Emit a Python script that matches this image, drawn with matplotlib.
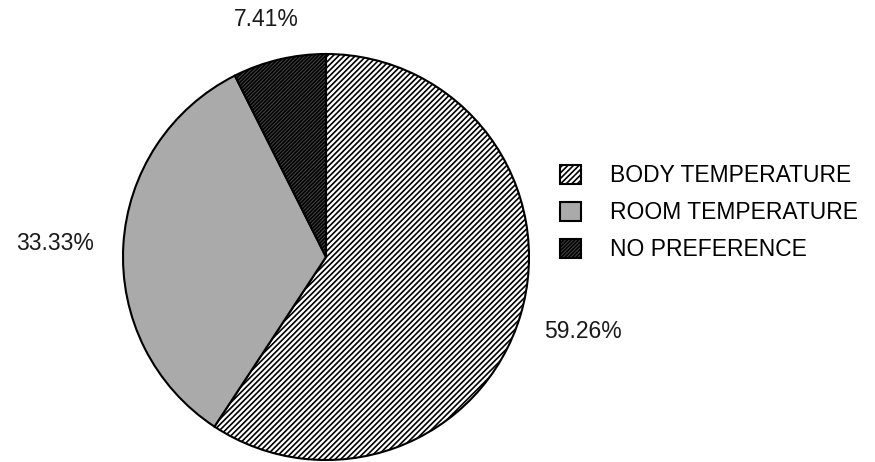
import matplotlib
matplotlib.use('Agg')
import matplotlib.pyplot as plt

categories = ['BODY TEMPERATURE', 'ROOM TEMPERATURE', 'NO PREFERENCE']
shares = [59.26, 33.33, 7.41]
pct_labels = ['59.26%', '33.33%', '7.41%']

plt.rcParams['font.family'] = ['Liberation Sans', 'DejaVu Sans']
plt.rcParams['hatch.linewidth'] = 1.2

W, H = 875, 462
fig = plt.figure(figsize=(W / 100, H / 100), dpi=100)
fig.patch.set_facecolor('white')

# pie centre ~ (326, 257) px, radius ~203 px
cx, cy, r = 326, 257, 203
ax = fig.add_axes([(cx - r) / W, (H - cy - r) / H, 2 * r / W, 2 * r / H])

wedges, _ = ax.pie(shares, startangle=90, counterclock=False, radius=1,
                   colors=['white', '#aaaaaa', '#484848'],
                   wedgeprops=dict(edgecolor='black', linewidth=1.5))
wedges[0].set_hatch('//////')
wedges[2].set_hatch('/////////')
ax.set_xlim(-1, 1)
ax.set_ylim(-1, 1)
ax.set_aspect('equal')
for w in wedges:
    w.set_clip_on(False)

# percent labels
label_pos = [(583, 332), (55, 244), (266, 20)]
for txt, (x, y) in zip(pct_labels, label_pos):
    fig.text(x / W, 1 - y / H, txt, ha='center', va='center', fontsize=16.5,
             color='#1a1a1a')

leg = fig.legend(wedges, categories, loc='upper left',
                 bbox_to_anchor=(560 / W, 1 - 164 / H), frameon=False,
                 borderpad=0, borderaxespad=0,
                 fontsize=16.5, handlelength=0.9, handleheight=0.9,
                 handletextpad=1.3, labelspacing=0.62)

fig.savefig('out.png', dpi=100, facecolor='white')
